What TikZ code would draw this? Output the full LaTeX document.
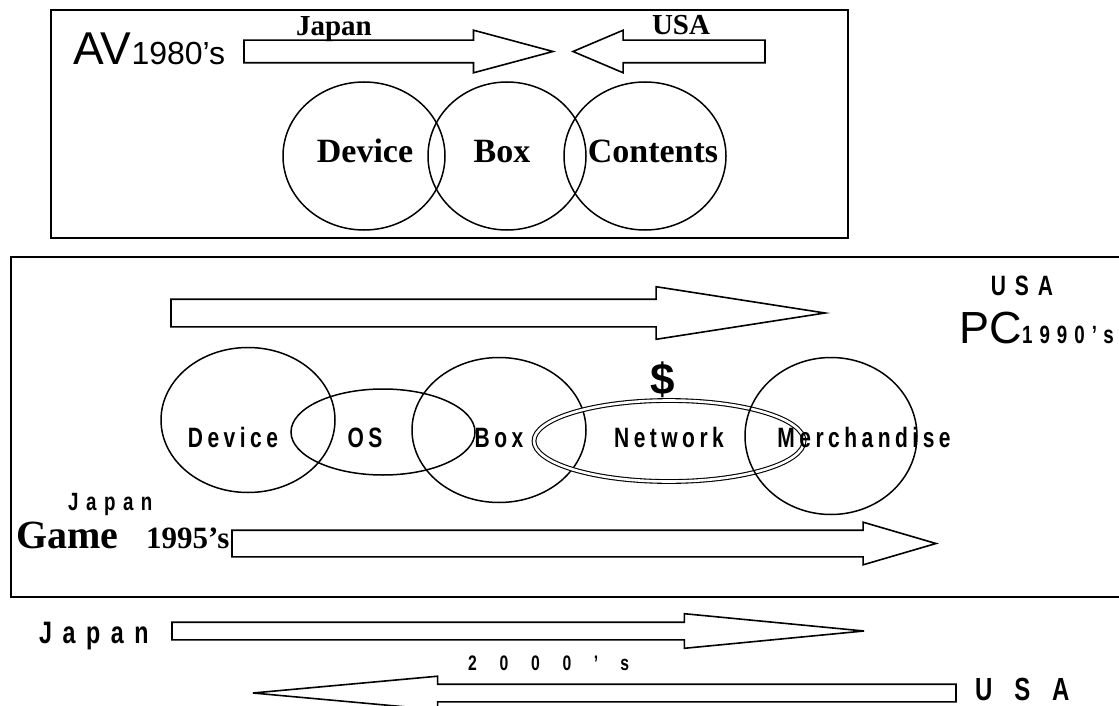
\documentclass[tikz,border=0pt]{standalone}
\usepackage{fontspec}
\setmainfont{Liberation Serif}
\newfontfamily\arialf{Liberation Sans}
\newfontfamily\gothic{Liberation Sans Bold}[FakeStretch=0.75]
\usetikzlibrary{shapes.geometric, shapes.arrows, positioning}
\newcommand\fsz[1]{\fontsize{#1}{#1}\selectfont}
\newcommand\gsp[1]{\addfontfeature{LetterSpace=#1}}

\begin{document}
\begin{tikzpicture}[
    x=1pt, y=-1pt,
    frame/.style={draw, line width=1.8pt},
    blockarrow/.style={single arrow, draw, line width=1.6pt, inner xsep=0pt, outer sep=0pt, single arrow head indent=0pt, anchor=tail},
    ring/.style={ellipse, draw, line width=1.5pt, inner sep=0pt},
    lbl/.style={inner sep=0pt, anchor=base},
    serifb/.style={lbl, font=\bfseries\fsz{#1}},
    goth/.style 2 args={lbl, font=\gothic\fsz{#1}\gsp{#2}}
]
\useasboundingbox (0,0) rectangle (1119,706);

% AV era (1980's)
\draw[frame] (51,10) rectangle (848,238);
\node[lbl, anchor=base west, font=\arialf\fsz{46}] (av) at (73,65) {AV};
\node[lbl, anchor=base west, font=\arialf\fsz{32}] (av80) at (av.base east) {1980’s};
\node[blockarrow, inner ysep=10.5, minimum height=309, minimum width=41, single arrow head extend=10, single arrow tip angle=30] (arrJp) at (244,51.5) {};
\node[blockarrow, inner ysep=10.5, minimum height=192, minimum width=41, single arrow head extend=10, single arrow tip angle=46, shape border rotate=180] (arrUs) at (765,51.5) {};
\node[serifb=29] (jpTop) at (334,36) {Japan};
\node[serifb=29] (usTop) at (681,35) {USA};
\node[ring, minimum width=162, minimum height=148] (cDev) at (364,156) {};
\node[ring, minimum width=158, minimum height=148] (cBox) at (507,156) {};
\node[ring, minimum width=162, minimum height=148] (cCont) at (645,156) {};
\node[serifb=34] (tDev) at (365,162) {Device};
\node[serifb=34] (tBox) at (502,162) {Box};
\node[serifb=34] (tCont) at (653,162) {Contents};

% PC / Game era
\draw[frame] (1119,257) -| (11,597) -- (1119,597);
\node[blockarrow, inner ysep=13, minimum height=654, minimum width=51, single arrow head extend=12.5, single arrow tip angle=17.7] (arrPc) at (171,313) {};
\node[goth={28}{32}] (usPc) at (1022,295) {USA};
\node[lbl, anchor=base west, font=\arialf\fsz{45}] (pc) at (959,343) {PC};
\node[lbl, anchor=base west, font=\gothic\fsz{25}\gsp{28}] (pc90) at (pc.base east) {1990’s};
\node[ring, minimum width=174, minimum height=145] (eDev) at (248,420) {};
\node[ring, minimum width=184, minimum height=86] (eOs) at (383,432) {};
\node[ring, minimum width=174, minimum height=145] (eBox) at (499,430) {};
\node[ring, double, line width=1.1pt, double distance=2.6pt, minimum width=270, minimum height=81] (eNet) at (669,441) {};
\node[ring, minimum width=172, minimum height=157] (eMer) at (831,436) {};
\node[lbl, font=\arialf\bfseries\fsz{44}] (dollar) at (663,394) {\$};
\node[goth={28}{16}] (tDev2) at (233,447) {Device};
\node[goth={28}{16}] (tOs) at (365,447) {OS};
\node[goth={28}{16}] (tBox2) at (499,447) {Box};
\node[goth={28}{16}] (tNet) at (669,447) {Network};
\node[goth={28}{16}] (tMer) at (864,447) {Merchandise};
\node[lbl, anchor=base west, font=\gothic\fsz{25}\gsp{30}] (jpGame) at (68,510) {Japan};
\node[lbl, anchor=base west, font=\bfseries\fsz{40}] (game) at (16,548) {Game};
\node[lbl, anchor=base west, font=\bfseries\fsz{31}] (game95) at (146,548) {1995’s};
\node[blockarrow, inner ysep=12.5, minimum height=704, minimum width=41, single arrow head extend=8, single arrow tip angle=32.6] (arrGame) at (232,543.5) {};

% 2000's
\node[lbl, anchor=base west, font=\gothic\fsz{31}\gsp{34}] (jpLow) at (39,643) {Japan};
\node[blockarrow, inner ysep=8, minimum height=692, minimum width=33, single arrow head extend=8.5, single arrow tip angle=11] (arrJpLow) at (172,631) {};
\node[lbl, anchor=base west, font=\gothic\fsz{21}\gsp{108}] (y2000) at (468,670) {2000’s};
\node[blockarrow, inner ysep=8, minimum height=703, minimum width=32, single arrow head extend=8, single arrow tip angle=10.4, shape border rotate=180] (arrUsLow) at (956,693) {};
\node[lbl, anchor=base west, font=\gothic\fsz{32}\gsp{68}] (usLow) at (975,700) {USA};
\end{tikzpicture}
\end{document}
